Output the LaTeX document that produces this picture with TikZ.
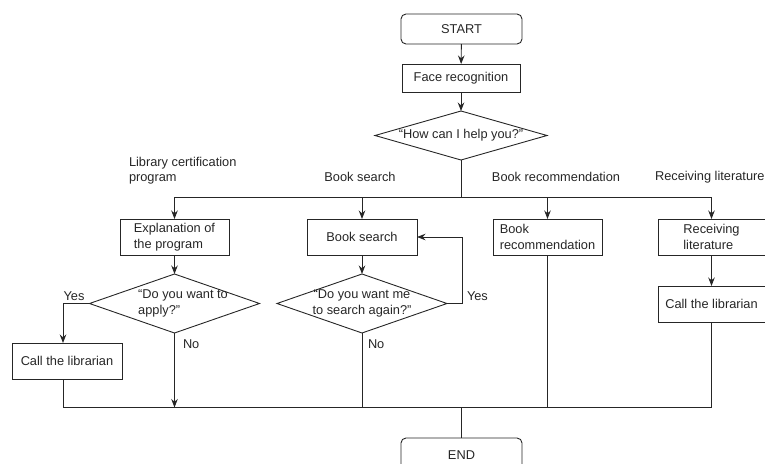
\documentclass[tikz,border=0pt]{standalone}
\usepackage{fontspec}
\setmainfont{Liberation Sans}
\usetikzlibrary{shapes.geometric,arrows.meta}
\begin{document}
\begin{tikzpicture}[x=1pt,y=-1pt,
  every node/.style={font=\fontsize{12.8}{15.5}\selectfont, text=black!85, inner sep=0pt, outer sep=0pt},
  box/.style={draw=black!85, line width=0.9pt, minimum width=109, minimum height=36, align=left},
  term/.style={draw=black!85, line width=0.9pt, rounded corners=5pt, minimum width=121, minimum height=30},
  dia/.style={draw=black!85, line width=0.9pt, diamond, minimum width=170, minimum height=59},
  line/.style={draw=black!85, line width=0.9pt},
  arr/.style={line, -{Stealth[length=8.5pt,width=6.5pt]}},
]
\useasboundingbox (0,0) rectangle (765,463);
\clip (0,0) rectangle (765,463);

% nodes
\node[term] (start) at (461.5,29) {START};
\node[box, minimum width=118, minimum height=28] (face) at (461,78) {Face recognition};
\node[dia, minimum width=172, minimum height=49] (d0) at (461,135.5) {\makebox[0pt]{“How can I help you?”}};

\node[anchor=west, align=left] (lcp) at (129,170.5) {Library certification\\program};
\node (lbs) at (360,177) {Book search};
\node (lbr) at (556,177) {Book recommendation};
\node[anchor=west] (lrl) at (655,177) {Receiving literature};

\node[box] (expl) at (174.5,237) {Explanation of\\the program};
\node[box, minimum width=110] (bs) at (362,237) {Book search};
\node[box] (brec) at (547.5,237) {Book\\recommendation};
\node[box, minimum width=107] (recv) at (711.5,237) {Receiving\\literature};
\node[box, minimum width=107] (rlib) at (711.5,304) {Call the librarian};

\node[dia] (d1) at (174.5,303.5) {\makebox[0pt]{\hspace*{17pt}\begin{tabular}{@{}l@{}}“Do you want to\\apply?”\end{tabular}}};
\node[dia] (d2) at (362,303.5) {\makebox[0pt]{\begin{tabular}{@{}c@{}}“Do you want me\\to search again?”\end{tabular}}};

\node[box, minimum width=110] (llib) at (67,361) {Call the librarian};
\node[term, minimum height=34] (end) at (461.5,455) {END};

\node (yes1) at (74,296) {Yes};
\node[anchor=west] (yes2) at (467,296) {Yes};
\node[anchor=west] (no1) at (183,344) {No};
\node[anchor=west] (no2) at (368,344) {No};

% coordinates
\coordinate (hb) at (461,197);
\coordinate (hl) at (174.5,197);
\coordinate (hr) at (711.5,197);
\coordinate (yl) at (63,303.5);
\coordinate (yr) at (462,303.5);
\coordinate (bl) at (63,407.5);
\coordinate (br) at (711.5,407.5);

% connectors
\draw[arr] (start) -- (face);
\draw[arr] (face) -- (d0);
\draw[line] (d0.south) -- (hb);
\draw[line] (hl) -- (hr);
\draw[arr] (hl) -- (expl.north);
\draw[arr] (bs.north |- hb) -- (bs.north);
\draw[arr] (brec.north |- hb) -- (brec.north);
\draw[arr] (hr) -- (recv.north);

\draw[arr] (expl.south) -- (d1.north);
\draw[arr] (bs.south) -- (d2.north);
\draw[arr] (recv.south) -- (rlib.north);

\draw[arr] (d1.west) -- (yl) -- (yl |- llib.north);
\draw[arr] (d2.east) -- (yr) -- (yr |- bs.east) -- (bs.east);

\draw[line] (llib.south -| bl) -- (bl) -- (br) -- (rlib.south);
\draw[arr] (d1.south) -- (d1.south |- bl);
\draw[line] (d2.south) -- (d2.south |- bl);
\draw[line] (brec.south) -- (brec.south |- bl);
\draw[line] (end.north |- bl) -- (end.north);
\end{tikzpicture}
\end{document}
